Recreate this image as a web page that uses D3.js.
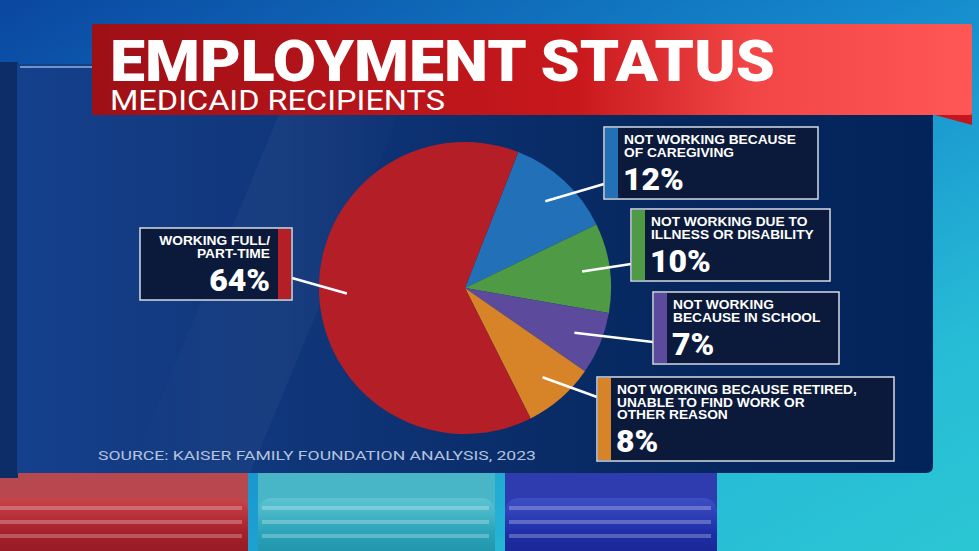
<!DOCTYPE html>
<html>
<head>
<meta charset="utf-8">
<script src="https://cdn.jsdelivr.net/npm/d3@7"></script>
<style>
  html, body { margin: 0; padding: 0; overflow: hidden; background: #0b4fa8; }
  svg { display: block; }
</style>
</head>
<body>
<div id="chart"></div>
<script>
// chart data
var TITLE = 'EMPLOYMENT STATUS';
var SUBTITLE = 'MEDICAID RECIPIENTS';
var SOURCE = 'SOURCE: KAISER FAMILY FOUNDATION ANALYSIS, 2023';

var categories = ['caregiving', 'illness', 'school', 'retired', 'working'];
var values = [12, 10, 7, 8, 64];
var labelLines = [
  ['NOT WORKING BECAUSE', 'OF CAREGIVING'],
  ['NOT WORKING DUE TO', 'ILLNESS OR DISABILITY'],
  ['NOT WORKING', 'BECAUSE IN SCHOOL'],
  ['NOT WORKING BECAUSE RETIRED,', 'UNABLE TO FIND WORK OR', 'OTHER REASON'],
  ['WORKING FULL/', 'PART-TIME']
];
var sliceColors = ['#2170b8', '#4f9a44', '#5c4b9c', '#d78327', '#b41f27'];

// label box placement (layout only)
var boxes = {
  caregiving: {x: 604, y: 127, w: 214, side: 'left', ly: 184},
  illness:    {x: 631, y: 209, w: 199, side: 'left', ly: 264},
  school:     {x: 653, y: 292, w: 186, side: 'left', ly: 342},
  retired:    {x: 597, y: 377, w: 297, side: 'left', ly: 397},
  working:    {x: 140, y: 228, w: 152, side: 'right', ly: 278}
};

var width = 979, height = 551;
var cx = 465, cy = 288, radius = 146;

var svg = d3.select('#chart').append('svg')
  .attr('width', width)
  .attr('height', height);

var defs = svg.append('defs');

function linGrad(id, x1, y1, x2, y2, stops) {
  var g = defs.append('linearGradient').attr('id', id)
    .attr('x1', x1).attr('y1', y1).attr('x2', x2).attr('y2', y2);
  stops.forEach(function(s) {
    g.append('stop').attr('offset', s[0]).attr('stop-color', s[1]).attr('stop-opacity', s[2] == null ? 1 : s[2]);
  });
}

linGrad('bg', 0, 0, 1, 1, [[0, '#0a47a0'], [0.45, '#1486cc'], [0.8, '#27bcd6'], [1, '#2bc6d4']]);
linGrad('panel', 0, 0, 1, 0, [[0, '#15408c'], [0.35, '#0f3477'], [0.7, '#06285f'], [1, '#03245a']]);
linGrad('banner', 0, 0, 1, 0, [[0, '#9e1016'], [0.3, '#b5141a'], [0.55, '#c8181c'], [0.75, '#f24646'], [1, '#ff5656']]);
linGrad('redCyl', 0, 0, 0, 1, [[0, '#c9434a'], [0.5, '#a5202a'], [1, '#8a1620']]);
linGrad('tealCyl', 0, 0, 0, 1, [[0, '#5cc4d2'], [0.5, '#2aa3b8'], [1, '#1b8aa0']]);
linGrad('blueCyl', 0, 0, 0, 1, [[0, '#3d4fc4'], [0.5, '#1f2ea6'], [1, '#15218a']]);
linGrad('streak', 0, 0, 1, 0, [[0, '#ffffff', 0], [0.5, '#ffffff', 0.04], [1, '#ffffff', 0]]);

// background
svg.append('rect').attr('width', width).attr('height', height).attr('fill', 'url(#bg)');

// bottom cylinders (decor)
var cyl = [
  {x: -20, w: 268, fill: 'url(#redCyl)', top: '#b84850'},
  {x: 258, w: 237, fill: 'url(#tealCyl)', top: '#49b6c8'},
  {x: 505, w: 212, fill: 'url(#blueCyl)', top: '#2f3cb0'}
];
cyl.forEach(function(c) {
  svg.append('rect').attr('x', c.x).attr('y', 470).attr('width', c.w).attr('height', 40)
    .attr('fill', c.top);
  svg.append('rect').attr('x', c.x).attr('y', 498).attr('width', c.w).attr('height', 70)
    .attr('rx', 14).attr('fill', c.fill);
  [506, 520, 534].forEach(function(y) {
    svg.append('rect').attr('x', c.x + 4).attr('y', y).attr('width', c.w - 10).attr('height', 4)
      .attr('fill', '#ffffff').attr('opacity', 0.25);
  });
});

// left edge strip
svg.append('rect').attr('x', 0).attr('y', 62).attr('width', 18).attr('height', 416).attr('fill', '#0c2d66');

// main panel
svg.append('path')
  .attr('d', 'M17,64 L933,64 L933,466 Q933,473 926,473 L17,473 Z')
  .attr('fill', 'url(#panel)');
svg.append('path')
  .attr('d', 'M300,64 L420,64 L250,473 L130,473 Z')
  .attr('fill', 'url(#streak)');
svg.append('line').attr('x1', 20).attr('y1', 67).attr('x2', 95).attr('y2', 67)
  .attr('stroke', '#bfe4ff').attr('stroke-width', 1.5).attr('opacity', 0.7);

// banner
svg.append('path').attr('d', 'M935,115 L972,106 L972,125 Z').attr('fill', '#c4161c');
svg.append('rect').attr('x', 92).attr('y', 24).attr('width', 880).attr('height', 91)
  .attr('rx', 2).attr('fill', 'url(#banner)');

function fit(t, w) {
  var len = t.node().getComputedTextLength();
  if (Math.abs(len - w) > 2) t.attr('textLength', w).attr('lengthAdjust', 'spacingAndGlyphs');
  return t;
}

fit(svg.append('text').attr('x', 110).attr('y', 81)
  .attr('font-family', 'Roboto, "Liberation Sans", sans-serif')
  .attr('font-weight', 900).attr('font-size', 58).attr('fill', '#ffffff')
  .text(TITLE), 665);

fit(svg.append('text').attr('x', 110).attr('y', 110)
  .attr('font-family', 'Roboto, "Liberation Sans", sans-serif')
  .attr('font-weight', 400).attr('font-size', 28).attr('fill', '#ffffff')
  .text(SUBTITLE), 335);

// pie
var pie = d3.pie().sort(null).value(function(d) { return d; })
  .startAngle(21.4 * Math.PI / 180)
  .endAngle((21.4 + 360) * Math.PI / 180);
var arcs = pie(values);
var arc = d3.arc().innerRadius(0).outerRadius(radius);
var inner = d3.arc().innerRadius(radius * 0.81).outerRadius(radius * 0.81);

var g = svg.append('g').attr('transform', 'translate(' + cx + ',' + cy + ')');
g.selectAll('path.slice').data(arcs).enter().append('path')
  .attr('class', 'slice')
  .attr('d', arc)
  .attr('fill', function(d, i) { return sliceColors[i]; });

// leader lines
arcs.forEach(function(a, i) {
  var b = boxes[categories[i]];
  var p = inner.centroid(a);
  var ex = b.side == 'left' ? b.x : b.x + b.w;
  svg.append('line')
    .attr('x1', cx + p[0]).attr('y1', cy + p[1])
    .attr('x2', ex).attr('y2', b.ly)
    .attr('stroke', '#ffffff').attr('stroke-width', 2.5);
});

// label boxes
categories.forEach(function(c, i) {
  var b = boxes[c];
  var lines = labelLines[i];
  var h = 60 + 12 * (lines.length - 1);
  var bg = svg.append('g');
  bg.append('rect').attr('x', b.x).attr('y', b.y).attr('width', b.w).attr('height', h)
    .attr('fill', '#0b1a3a').attr('stroke', '#d6dbe6').attr('stroke-width', 1.5);
  var barX = b.side == 'left' ? b.x + 1 : b.x + b.w - 14;
  bg.append('rect').attr('x', barX).attr('y', b.y + 1).attr('width', 13).attr('height', h - 2)
    .attr('fill', sliceColors[i]);

  var tx = b.side == 'left' ? b.x + 20 : b.x + b.w - 22;
  var anchor = b.side == 'left' ? 'start' : 'end';
  lines.forEach(function(l, j) {
    var t = bg.append('text').attr('x', tx).attr('y', b.y + 17 + 12.5 * j)
      .attr('text-anchor', anchor)
      .attr('font-family', '"Liberation Sans", Arial, sans-serif')
      .attr('font-weight', 700).attr('font-size', 12.5)
      .attr('fill', '#ffffff').text(l);
    // stretch a little wider, like the condensed broadcast face
    t.attr('textLength', t.node().getComputedTextLength() * 1.1)
      .attr('lengthAdjust', 'spacingAndGlyphs');
  });
  bg.append('text').attr('x', tx - (b.side == 'left' ? 1 : 0))
    .attr('y', b.y + 18 + 12 * (lines.length - 1) + 33)
    .attr('text-anchor', anchor)
    .attr('font-family', 'Roboto, "Liberation Sans", sans-serif')
    .attr('font-weight', 900).attr('font-size', 32)
    .attr('fill', '#ffffff').text(values[i] + '%');
});

// source
fit(svg.append('text').attr('x', 98).attr('y', 460)
  .attr('font-family', 'Roboto, "Liberation Sans", sans-serif')
  .attr('font-size', 13.5).attr('fill', '#b4c3dc')
  .text(SOURCE), 438);
</script>
</body>
</html>
